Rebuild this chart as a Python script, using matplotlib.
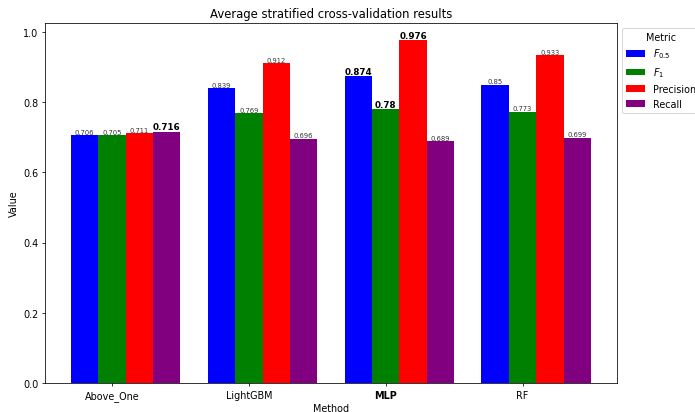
import numpy as np
import matplotlib
matplotlib.use('Agg')
import matplotlib.pyplot as plt

methods = ['Above_One', 'LightGBM', 'MLP', 'RF']
metrics = ['$F_{0.5}$', '$F_1$', 'Precision', 'Recall']
colors = ['blue', 'green', 'red', 'purple']

f05 = [0.706, 0.839, 0.874, 0.85]
f1 = [0.705, 0.769, 0.78, 0.773]
precision = [0.711, 0.912, 0.976, 0.933]
recall = [0.716, 0.696, 0.689, 0.699]
scores = [f05, f1, precision, recall]

fig = plt.figure(figsize=(10, 5.94), dpi=69.5)
ax = fig.add_axes([0.0647, 0.0702, 0.823, 0.8717])

x = np.arange(len(methods))
width = 0.2
for i, (vals, name, c) in enumerate(zip(scores, metrics, colors)):
    bars = ax.bar(x + (i - 1) * width, vals, width, color=c, label=name)
    best = max(vals)
    for b, v in zip(bars, vals):
        if v == best:
            ax.text(b.get_x() + b.get_width() / 2, v, str(v), ha='center', va='bottom',
                    fontsize=9, fontweight='bold', color='black')
        else:
            ax.text(b.get_x() + b.get_width() / 2, v, str(v), ha='center', va='bottom',
                    fontsize=7, color='#333333')

ax.set_xticks(x)
ax.set_xticklabels(methods)
ax.get_xticklabels()[2].set_fontweight('bold')
ax.set_xlabel('Method', labelpad=2.5)
ax.set_ylabel('Value')
ax.set_title('Average stratified cross-validation results')
ax.legend(title='Metric', loc='upper left', bbox_to_anchor=(1, 1))

fig.savefig('out.png', dpi=69.5)
